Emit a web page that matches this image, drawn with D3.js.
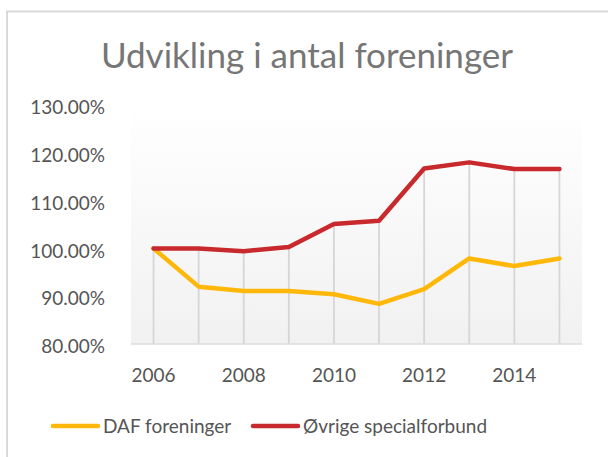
<!DOCTYPE html>
<html>
<head>
<meta charset="utf-8">
<script src="https://cdn.jsdelivr.net/npm/d3@7"></script>
<style>
  body { margin: 0; background: #fff; }
  text { font-family: Lato, "Open Sans", sans-serif; }
</style>
</head>
<body>
<svg id="chart" width="608" height="457"></svg>
<script>
// data
var years = [2006, 2007, 2008, 2009, 2010, 2011, 2012, 2013, 2014, 2015];
var daf = [1.000, 0.920, 0.911, 0.911, 0.904, 0.884, 0.915, 0.979, 0.963, 0.979];
var ovrige = [1.000, 1.000, 0.994, 1.003, 1.051, 1.058, 1.167, 1.180, 1.166, 1.166];
var yTicks = [0.8, 0.9, 1.0, 1.1, 1.2, 1.3];
var xTickYears = [2006, 2008, 2010, 2012, 2014];
var seriesNames = ["DAF foreninger", "Øvrige specialforbund"];
var colors = ["#ffb809", "#c8292c"];

var svg = d3.select("#chart");

// chart border (top + left like the screenshot crop)
svg.append("path")
	.attr("d", "M7,457 V11.5 H608")
	.attr("fill", "none")
	.attr("stroke", "#d9d9d9")
	.attr("stroke-width", 2);

var plotLeft = 131, plotRight = 582, plotTop = 105, plotBottom = 344;

var x = d3.scaleBand().domain(years).range([plotLeft, plotRight]);
var y = d3.scaleLinear().domain([0.8, 1.3]).range([plotBottom, plotTop]);

// plot area gradient
var defs = svg.append("defs");
var grad = defs.append("linearGradient").attr("id", "bg")
	.attr("x1", 0).attr("y1", 0).attr("x2", 0).attr("y2", 1);
grad.append("stop").attr("offset", "0%").attr("stop-color", "#ffffff");
grad.append("stop").attr("offset", "100%").attr("stop-color", "#f1f1f1");

svg.append("rect")
	.attr("x", plotLeft).attr("y", plotTop)
	.attr("width", plotRight - plotLeft).attr("height", plotBottom - plotTop)
	.attr("fill", "url(#bg)");

// title
svg.append("text")
	.attr("x", 307).attr("y", 68)
	.attr("text-anchor", "middle")
	.attr("fill", "#767676")
	.style("font-size", "35px")
	.text("Udvikling i antal foreninger");

var cx = function(d){ return x(d) + x.bandwidth() / 2; };

// drop lines from highest point to axis
svg.append("g").selectAll("line")
	.data(years)
	.enter().append("line")
	.attr("x1", cx).attr("x2", cx)
	.attr("y1", function(d, i){ return y(Math.max(daf[i], ovrige[i])); })
	.attr("y2", plotBottom)
	.attr("stroke", "#d6d6d6")
	.attr("stroke-width", 1.8);

// baseline
svg.append("line")
	.attr("x1", plotLeft).attr("x2", plotRight)
	.attr("y1", plotBottom).attr("y2", plotBottom)
	.attr("stroke", "#dcdcdc")
	.attr("stroke-width", 1.5);

// y axis labels
var yAxis = d3.axisLeft(y).tickValues(yTicks).tickSize(0)
	.tickFormat(function(d){ return (d * 100).toFixed(2) + "%"; });
var gy = svg.append("g").attr("transform", "translate(108,2)").call(yAxis);
gy.select(".domain").remove();
gy.selectAll("text")
	.attr("fill", "#555555")
	.attr("dy", "0.35em")
	.style("font-size", "19px");

// x axis labels
var xAxis = d3.axisBottom(x).tickValues(xTickYears).tickSize(0);
var gx = svg.append("g").attr("transform", "translate(0," + plotBottom + ")").call(xAxis);
gx.select(".domain").remove();
gx.selectAll("text")
	.attr("fill", "#555555")
	.attr("y", 31)
	.attr("dy", "0.35em")
	.style("font-size", "19px");

// lines
var line = d3.line()
	.x(function(d, i){ return cx(years[i]); })
	.y(function(d){ return y(d); });

[daf, ovrige].forEach(function(s, k){
	svg.append("path")
		.datum(s)
		.attr("d", line)
		.attr("fill", "none")
		.attr("stroke", colors[k])
		.attr("stroke-width", 4.5)
		.attr("stroke-linejoin", "round")
		.attr("stroke-linecap", "round");
});

// legend
var legendX = [52, 252];
var leg = svg.append("g").selectAll("g")
	.data(seriesNames)
	.enter().append("g")
	.attr("transform", function(d, i){ return "translate(" + legendX[i] + ",426)"; });
leg.append("line")
	.attr("x1", 1).attr("x2", 46)
	.attr("stroke", function(d, i){ return colors[i]; })
	.attr("stroke-width", 4.5)
	.attr("stroke-linecap", "round");
leg.append("text")
	.attr("x", 51)
	.attr("dy", "0.35em")
	.attr("fill", "#555555")
	.style("font-size", "19px")
	.text(function(d){ return d; });
</script>
</body>
</html>
